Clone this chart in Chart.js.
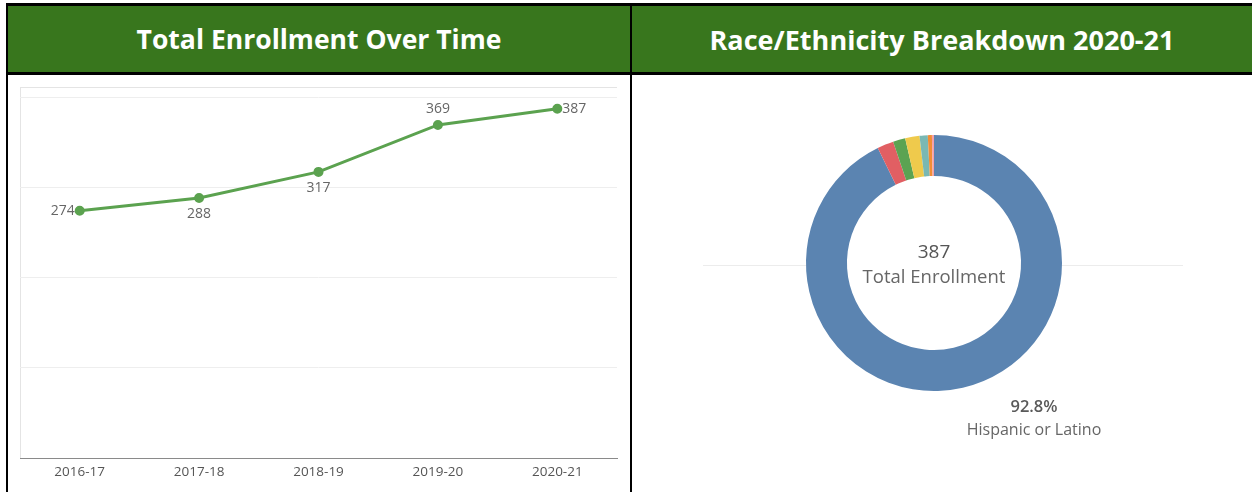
<!DOCTYPE html>
<html><head><meta charset="utf-8">
<script src="https://cdn.jsdelivr.net/npm/chart.js@4"></script>
<style>
html,body{margin:0;padding:0;background:#fff;width:1252px;height:492px;overflow:hidden;font-family:"Open Sans",sans-serif}
.abs{position:absolute}
.hdr{position:absolute;top:6px;height:66px;background:#38761d;color:#fff;font-weight:700;font-size:25px;display:flex;align-items:center;justify-content:center;white-space:nowrap;font-family:"Open Sans",sans-serif}
.blk{position:absolute;background:#000}
</style></head><body>
<div class="blk" style="left:6px;top:3px;width:1246px;height:3px"></div>
<div class="hdr" id="t1" style="left:8px;width:622px"><span>Total Enrollment Over Time</span></div>
<div class="hdr" id="t2" style="left:632px;width:620px"><span>Race/Ethnicity Breakdown 2020-21</span></div>
<div class="blk" style="left:6px;top:72px;width:1246px;height:3px"></div>
<div class="blk" style="left:6px;top:3px;width:2px;height:489px"></div>
<div class="blk" style="left:630px;top:3px;width:2px;height:489px"></div>
<div class="abs" style="left:20px;top:87px;width:597px;height:371px;border-left:1px solid #e4e4e4;border-top:1px solid #e4e4e4;box-sizing:border-box"></div>
<div class="abs" style="left:20px;top:87px;width:598px;height:405px"><canvas id="line"></canvas></div>
<div class="abs" style="left:632px;top:75px;width:620px;height:417px"><canvas id="donut"></canvas></div>
<script>
// ---- data ----
const years = ["2016-17", "2017-18", "2018-19", "2019-20", "2020-21"];
const enrollment = [274, 288, 317, 369, 387];
const yTicks = [0, 100, 200, 300, 400];

const raceLabels = ["Hispanic or Latino", "White", "Black or African American", "Asian", "Two or More Races", "American Indian or Alaska Native", "Filipino"];
const raceCounts = [359, 8, 6, 7, 4, 2, 1];
const raceColors = ["#5b84b1", "#e15f63", "#5ba352", "#efca4c", "#7ab8b3", "#f28e35", "#f5a0a8"];

// ---- title fitting ----
function fitTitle(id, target) {
  const span = document.querySelector('#' + id + ' span');
  const c = document.createElement('canvas').getContext('2d');
  c.font = '700 25px "Open Sans"';
  const w = c.measureText(span.textContent).width;
  const size = Math.min(27, 25 * target / w);
  span.style.fontSize = size + 'px';
  const w2 = w * size / 25;
  span.style.letterSpacing = Math.max(0, (target - w2) / span.textContent.length) + 'px';
}
fitTitle('t1', 365);
fitTitle('t2', 465);

// ---- line chart ----
const labelAnchors = ['left', 'below', 'below', 'above', 'right'];
const lineLabels = {
  id: 'lineLabels',
  afterDatasetsDraw(chart) {
    const ctx = chart.ctx;
    const meta = chart.getDatasetMeta(0);
    ctx.save();
    ctx.font = '14px "Open Sans"';
    ctx.fillStyle = '#666';
    meta.data.forEach((pt, i) => {
      const v = String(chart.data.datasets[0].data[i]);
      const a = labelAnchors[i];
      let x = pt.x, y = pt.y;
      ctx.textBaseline = 'middle';
      if (a === 'left') { ctx.textAlign = 'right'; x -= 5; }
      else if (a === 'right') { ctx.textAlign = 'left'; x += 5; }
      else if (a === 'below') { ctx.textAlign = 'center'; y += 16; }
      else { ctx.textAlign = 'center'; y -= 16; }
      ctx.fillText(v, x, y);
    });
    ctx.restore();
  }
};

new Chart(document.getElementById('line'), {
  type: 'line',
  data: {
    labels: years,
    datasets: [{
      data: enrollment,
      borderColor: '#5ba24f',
      backgroundColor: '#5ba24f',
      borderWidth: 3,
      pointRadius: 3.5,
      pointHoverRadius: 3.5,
      tension: 0
    }]
  },
  options: {
    responsive: true,
    maintainAspectRatio: false,
    animation: false,
    layout: { autoPadding: false, padding: { top: 10, right: 1, left: 0, bottom: 0 } },
    plugins: { legend: { display: false }, tooltip: { enabled: false } },
    scales: {
      x: {
        offset: true,
        grid: { display: false, drawTicks: false },
        border: { display: true, color: '#8a8a8a', width: 1 },
        ticks: { color: '#555', font: { family: 'Open Sans', size: 13.5 }, padding: 6, maxRotation: 0 },
        afterFit(s) { s.height = 34; }
      },
      y: {
        min: yTicks[0],
        max: yTicks[yTicks.length - 1],
        afterBuildTicks(s) { s.ticks = yTicks.map(v => ({ value: v })); },
        grid: {
          drawTicks: false,
          color: c => (c.tick && c.tick.value === 0) ? 'rgba(0,0,0,0)' : '#eeeeee',
          lineWidth: 1
        },
        border: { display: false },
        ticks: { display: false },
        afterFit(s) { s.width = 0; }
      }
    }
  },
  plugins: [lineLabels]
});

// ---- doughnut ----
const donutDeco = {
  id: 'donutDeco',
  beforeDatasetsDraw(chart) {
    const arc = chart.getDatasetMeta(0).data[0];
    const ctx = chart.ctx;
    ctx.save();
    ctx.strokeStyle = '#ececec';
    ctx.lineWidth = 1;
    ctx.beginPath();
    ctx.moveTo(arc.x - 231, arc.y + 2.5);
    ctx.lineTo(arc.x + 249, arc.y + 2.5);
    ctx.stroke();
    ctx.fillStyle = '#fff';
    ctx.beginPath();
    ctx.arc(arc.x, arc.y, arc.innerRadius, 0, Math.PI * 2);
    ctx.fill();
    ctx.restore();
  },
  afterDatasetsDraw(chart) {
    const arc = chart.getDatasetMeta(0).data[0];
    const data = chart.data.datasets[0].data;
    const total = data.reduce((a, b) => a + b, 0);
    const ctx = chart.ctx;
    ctx.save();
    ctx.textAlign = 'center';
    ctx.textBaseline = 'middle';
    ctx.fillStyle = '#555';
    ctx.font = '19px "Open Sans"';
    ctx.fillText(String(total), arc.x, arc.y - 10);
    ctx.fillStyle = '#666';
    ctx.font = '18.5px "Open Sans"';
    ctx.fillText('Total Enrollment', arc.x, arc.y + 15);
    const pct = (data[0] / total * 100).toFixed(1) + '%';
    ctx.fillStyle = '#5a5a5a';
    ctx.font = '600 16.5px "Open Sans"';
    ctx.fillText(pct, arc.x + 100, arc.y + 144);
    ctx.fillStyle = '#666';
    ctx.font = '16px "Open Sans"';
    ctx.fillText(chart.data.labels[0], arc.x + 100, arc.y + 167);
    ctx.restore();
  }
};

new Chart(document.getElementById('donut'), {
  type: 'doughnut',
  data: {
    labels: raceLabels,
    datasets: [{ data: raceCounts, backgroundColor: raceColors, borderWidth: 0 }]
  },
  options: {
    responsive: true,
    maintainAspectRatio: false,
    animation: false,
    radius: 128,
    cutout: '68%',
    layout: { padding: { right: 16, bottom: 41 } },
    plugins: { legend: { display: false }, tooltip: { enabled: false } }
  },
  plugins: [donutDeco]
});
</script>
</body></html>
